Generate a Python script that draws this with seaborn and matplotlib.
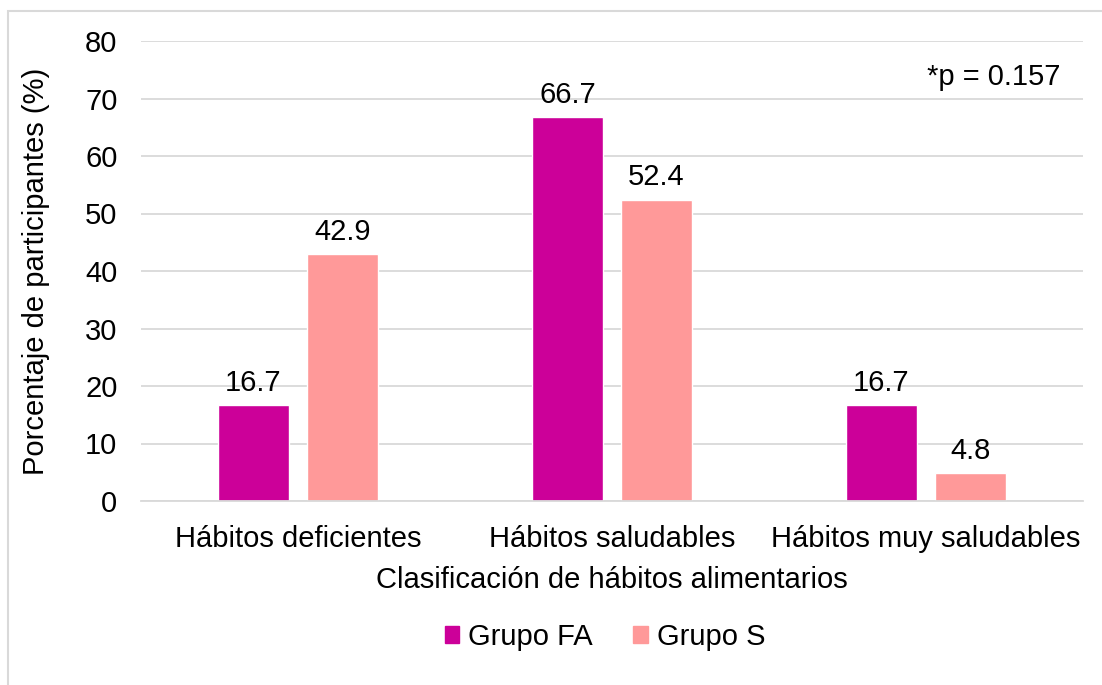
import matplotlib
matplotlib.use("Agg")
import matplotlib.pyplot as plt
import seaborn as sns
import pandas as pd
from matplotlib.patches import Rectangle

categories = ["Hábitos deficientes", "Hábitos saludables", "Hábitos muy saludables"]
groups = ["Grupo FA", "Grupo S"]
grupo_fa = [16.7, 66.7, 16.7]
grupo_s = [42.9, 52.4, 4.8]
y_ticks = [0, 10, 20, 30, 40, 50, 60, 70, 80]
colors = ["#CC0099", "#FF9999"]

df = pd.DataFrame({
    "categoria": categories * 2,
    "grupo": [groups[0]] * 3 + [groups[1]] * 3,
    "valor": grupo_fa + grupo_s,
})

sns.set_theme(style="white")
plt.rcParams["font.family"] = ["Liberation Sans", "DejaVu Sans"]
plt.rcParams["text.color"] = "black"
plt.rcParams["axes.labelcolor"] = "black"

FS = 21
W, H = 1102, 685
fig = plt.figure(figsize=(W / 100, H / 100), dpi=100)
ax = fig.add_axes([141 / W, 1 - 501 / H, (1083 - 141) / W, (501 - 41) / H])

sns.barplot(data=df, x="categoria", y="valor", hue="grupo", order=categories,
            hue_order=groups, palette=colors, width=0.567, gap=0.21,
            saturation=1, ax=ax, legend=False)

ax.set_ylim(0, 80)
ax.set_xlim(-0.5, 2.5)
ax.set_yticks(y_ticks)
ax.yaxis.grid(True, color="#D9D9D9", linewidth=1.3)
ax.set_axisbelow(True)
for side in ["top", "right", "left"]:
    ax.spines[side].set_visible(False)
ax.spines["bottom"].set_color("#D9D9D9")
ax.spines["bottom"].set_linewidth(1.3)
ax.tick_params(axis="both", length=0, labelsize=FS, colors="black")
ax.tick_params(axis="y", pad=17)
ax.tick_params(axis="x", pad=17)

for container in ax.containers:
    ax.bar_label(container, fmt="%.1f", padding=6, fontsize=FS, color="black")

ax.set_xlabel("Clasificación de hábitos alimentarios", fontsize=FS, labelpad=10)
ax.set_ylabel("Porcentaje de participantes (%)", fontsize=FS, labelpad=25)

ax.text(0.9756, 0.9217, "*p = 0.157", transform=ax.transAxes, ha="right",
        va="center", fontsize=FS)

handles = [Rectangle((0, 0), 1, 1, color=c) for c in colors]
fig.legend(handles, groups, loc="center",
           bbox_to_anchor=(605 / W, 1 - 637 / H),
           ncol=2, frameon=False, fontsize=FS, handlelength=0.5,
           handleheight=0.5, handletextpad=0.3, columnspacing=1.4)

# chart frame
fig.patches.append(Rectangle((8 / W, -0.05), 1.2, 1 - 11 / H + 0.05,
                             transform=fig.transFigure, fill=False,
                             edgecolor="#D9D9D9", linewidth=1.5))

fig.savefig("out.png", dpi=100, facecolor="white")
